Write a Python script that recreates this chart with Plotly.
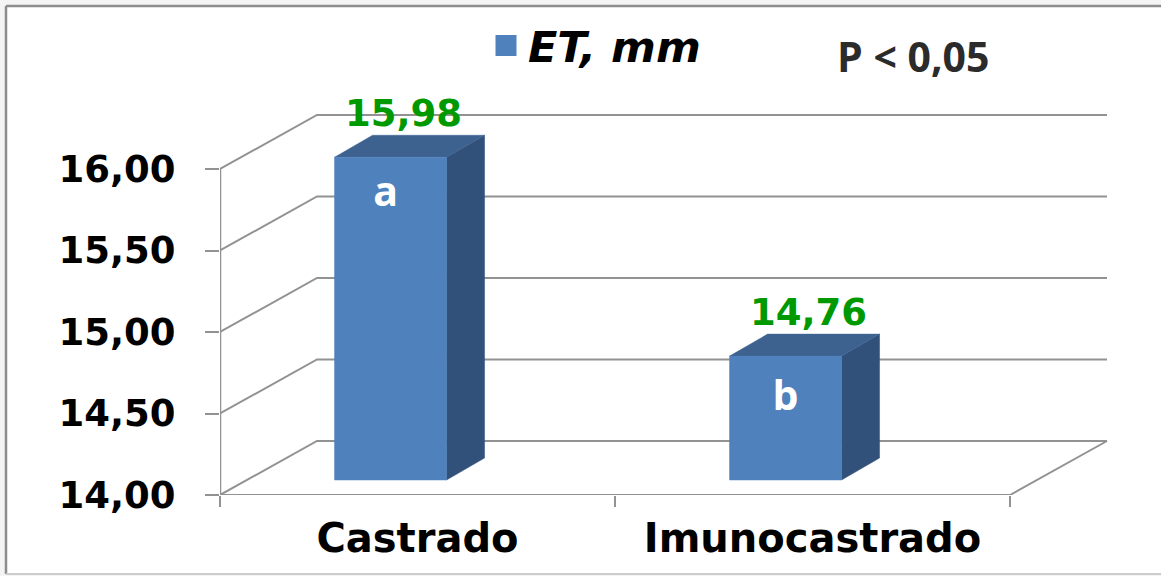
import plotly.graph_objects as go

# --- data ---
categories = ["Castrado", "Imunocastrado"]
et_mm = [15.98, 14.76]
value_labels = ["15,98", "14,76"]
group_letters = ["a", "b"]
y_ticks = [14.0, 14.5, 15.0, 15.5, 16.0]
y_tick_labels = ["14,00", "14,50", "15,00", "15,50", "16,00"]
series_name = "ET, mm"
note = "P < 0,05"

# --- pseudo-3D geometry, in axis units ---
X_UNIT, Y_UNIT = 395.0, 163.0      # px per axis unit
PW, PH = 941, 495                  # plot area, px
WALL_DX, WALL_DY = 97 / X_UNIT, 54 / Y_UNIT
BAR_LEFT, BAR_W = -0.21, 112 / X_UNIT
BAR_LIFT = 15 / Y_UNIT
BAR_DX, BAR_DY = 38 / X_UNIT, 22 / Y_UNIT
X0, X1 = -0.5, 1.5

GRID = "#929292"
FRONT, TOP, SIDE = "#4f81bd", "#3d6290", "#32517a"
WIDE = "DejaVu Sans"

def px(p):
    return (p - 220) / PW

def py(p):
    return 1 - p / PH

fig = go.Figure()

def poly(xs, ys, color):
    fig.add_trace(go.Scatter(x=xs, y=ys, mode="lines", fill="toself", fillcolor=color,
                             line=dict(color=color, width=0.5), hoverinfo="skip", showlegend=False))

def line(xs, ys, width=2):
    fig.add_trace(go.Scatter(x=xs, y=ys, mode="lines", line=dict(color=GRID, width=width),
                             hoverinfo="skip", showlegend=False))

# walls and floor
for t in y_ticks:
    line([X0, X0 + WALL_DX, X1 + WALL_DX], [t, t + WALL_DY, t + WALL_DY])
line([X0, X0], [y_ticks[0], y_ticks[-1]], 2.5)
line([X0, X1, X1 + WALL_DX], [y_ticks[0], y_ticks[0], y_ticks[0] + WALL_DY])

# bars
base = y_ticks[0] + BAR_LIFT
for i, v in enumerate(et_mm):
    l = i + BAR_LEFT
    r = l + BAR_W
    t = v + BAR_LIFT
    poly([r, r + BAR_DX, r + BAR_DX, r, r], [base, base + BAR_DY, t + BAR_DY, t, base], SIDE)
    poly([l, l + BAR_DX, r + BAR_DX, r, l], [t, t + BAR_DY, t + BAR_DY, t, t], TOP)
    poly([l, r, r, l, l], [base, base, t, t, base], FRONT)

# value labels
label_shift = [-6 / X_UNIT, 4 / X_UNIT]
fig.add_trace(go.Scatter(
    x=[i + BAR_LEFT + (BAR_W + BAR_DX) / 2 + s for i, s in enumerate(label_shift)],
    y=[v + BAR_LIFT + BAR_DY for v in et_mm],
    mode="text", text=value_labels, textposition="top center",
    textfont=dict(family=WIDE, size=37, color="#009900", weight="bold"),
    hoverinfo="skip", showlegend=False, cliponaxis=False))

# letters inside bars
letter_drop = [0.235, 0.265]
letter_shift = [-5 / X_UNIT, 0.0]
fig.add_trace(go.Scatter(
    x=[i + BAR_LEFT + BAR_W / 2 + s for i, s in enumerate(letter_shift)],
    y=[v + BAR_LIFT - d for v, d in zip(et_mm, letter_drop)],
    mode="text", text=group_letters, textposition="middle center",
    textfont=dict(family="Open Sans", size=41, color="white", weight="bold"),
    hoverinfo="skip", showlegend=False))

# legend entry
fig.add_trace(go.Scatter(
    x=[None], y=[None], mode="markers", name=series_name,
    marker=dict(symbol="square", size=16, color=FRONT, line=dict(color=FRONT, width=5))))

fig.update_layout(
    width=1161, height=576,
    margin=dict(l=220, r=0, t=0, b=81),
    paper_bgcolor="#f4f4f4",
    plot_bgcolor="rgba(0,0,0,0)",
    showlegend=True,
    legend=dict(x=px(484), y=py(11), xanchor="left", yanchor="top",
                bgcolor="rgba(0,0,0,0)", itemwidth=34,
                font=dict(family=WIDE, size=43, color="#000000", style="italic", weight="bold")),
    xaxis=dict(
        range=[X0, X0 + PW / X_UNIT], showgrid=False, zeroline=False, showline=False,
        tickmode="array", tickvals=[0, 1], ticktext=categories,
        ticks="outside", ticklen=8, tickcolor="rgba(0,0,0,0)",
        tickfont=dict(family=WIDE, size=40, color="#000000", weight="bold"),
        minor=dict(tickmode="array", tickvals=[X0, 0.5, X1], ticks="outside", ticklen=11,
                   tickwidth=2, tickcolor=GRID, showgrid=False),
    ),
    yaxis=dict(
        range=[y_ticks[0], y_ticks[0] + PH / Y_UNIT], showgrid=False, zeroline=False, showline=False,
        tickmode="array", tickvals=y_ticks, ticktext=y_tick_labels,
        ticks="outside", ticklen=14, tickwidth=2, tickcolor=GRID, ticklabelstandoff=22,
        tickfont=dict(family=WIDE, size=37, color="#000000", weight="bold"),
    ),
    shapes=[
        dict(type="rect", xref="paper", yref="paper", layer="below",
             x0=px(6), x1=1.0, y0=py(574), y1=py(6),
             fillcolor="white", line=dict(width=0)),
        dict(type="line", xref="paper", yref="paper", layer="below",
             x0=px(6), x1=1.0, y0=py(6), y1=py(6),
             line=dict(color="#8c8c8c", width=2.5)),
        dict(type="line", xref="paper", yref="paper", layer="below",
             x0=px(6), x1=px(6), y0=py(574), y1=py(6),
             line=dict(color="#8c8c8c", width=2.5)),
        dict(type="line", xref="paper", yref="paper", layer="below",
             x0=px(6), x1=1.0, y0=py(574), y1=py(574),
             line=dict(color="#cccccc", width=2)),
    ],
    annotations=[
        dict(text=note, xref="paper", yref="paper", x=px(913), y=py(56),
             xanchor="center", yanchor="middle", showarrow=False,
             font=dict(family="Open Sans", size=41, color="#2b2b2b", weight="bold")),
    ],
)

fig.write_html("out.html", config={"displayModeBar": False},
               post_script="document.body.style.margin='0';document.body.style.background='#f4f4f4';")
